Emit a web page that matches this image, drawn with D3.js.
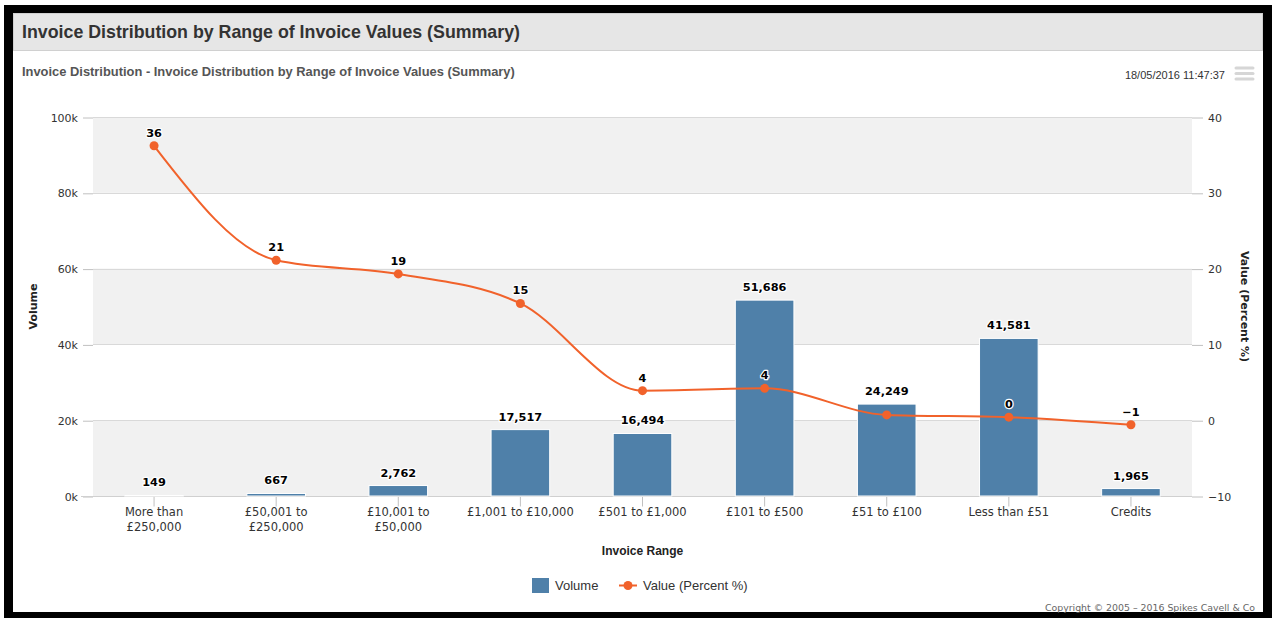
<!DOCTYPE html>
<html>
<head>
<meta charset="utf-8">
<script src="https://cdn.jsdelivr.net/npm/d3@7"></script>
<style>
  html, body { margin: 0; padding: 0; background: #fff; }
  svg { display: block; }
</style>
</head>
<body>
<svg id="chart" width="1272" height="618"></svg>
<script>
// Invoice ranges (x categories)
const categories = [
  "More than £250,000", "£50,001 to £250,000", "£10,001 to £50,000",
  "£1,001 to £10,000", "£501 to £1,000", "£101 to £500",
  "£51 to £100", "Less than £51", "Credits"
];
// Number of invoices per range (left axis, bars)
const volume = [149, 667, 2762, 17517, 16494, 51686, 24249, 41581, 1965];
// Share of total invoice value, percent (right axis, line)
const valuePct = [36.2, 21.1, 19.3, 15.4, 3.9, 4.2, 0.7, 0.4, -0.6];
// Axis tick values
const volumeTicks = [0, 20000, 40000, 60000, 80000, 100000];
const pctTicks = [-10, 0, 10, 20, 30, 40];

const W = 1272, H = 618;
const plot = { left: 93, right: 1192, top: 117, bottom: 496 };
const barColor = "#4f80a9";
const lineColor = "#f1622b";
const sans = "'DejaVu Sans', Verdana, sans-serif";
const arial = "'Liberation Sans', Arial, sans-serif";

const svg = d3.select("#chart");

// Frame
svg.append("rect").attr("x", 0).attr("y", 0).attr("width", W).attr("height", H).attr("fill", "#fff");
svg.append("rect").attr("x", 4).attr("y", 5).attr("width", W - 4).attr("height", H - 5).attr("fill", "#000");
svg.append("rect").attr("x", 13).attr("y", 13).attr("width", 1250).attr("height", 599).attr("fill", "#fff");

// Header bar
svg.append("rect").attr("x", 13.5).attr("y", 13.5).attr("width", 1249).attr("height", 37)
  .attr("fill", "#e6e6e6").attr("stroke", "#d0d0d0");
svg.append("text").attr("x", 22).attr("y", 38)
  .attr("font-family", arial).attr("font-size", 17.8).attr("font-weight", "bold").attr("fill", "#333")
  .text("Invoice Distribution by Range of Invoice Values (Summary)");

// Chart subtitle and timestamp
svg.append("text").attr("x", 22).attr("y", 76)
  .attr("font-family", arial).attr("font-size", 12.9).attr("font-weight", "bold").attr("fill", "#555")
  .text("Invoice Distribution - Invoice Distribution by Range of Invoice Values (Summary)");
svg.append("text").attr("x", 1225).attr("y", 79).attr("text-anchor", "end")
  .attr("font-family", arial).attr("font-size", 11).attr("fill", "#333")
  .text("18/05/2016 11:47:37");

// Context menu icon
svg.append("g").selectAll("line").data([68, 73.5, 79]).join("line")
  .attr("x1", 1236).attr("x2", 1253).attr("y1", d => d).attr("y2", d => d)
  .attr("stroke", "#d6d6d6").attr("stroke-width", 3).attr("stroke-linecap", "round");

// Scales
const x = d3.scaleBand().domain(categories).range([plot.left, plot.right]);
const yL = d3.scaleLinear().domain([0, 100000]).range([plot.bottom, plot.top]);
const yR = d3.scaleLinear().domain([-10, 40]).range([plot.bottom, plot.top]);

// Alternating plot bands
const bands = d3.range(0, volumeTicks.length - 1, 2).map(i => [volumeTicks[i], volumeTicks[i + 1]]);
svg.append("g").selectAll("rect").data(bands).join("rect")
  .attr("x", plot.left).attr("width", plot.right - plot.left)
  .attr("y", d => yL(d[1])).attr("height", d => yL(d[0]) - yL(d[1]))
  .attr("fill", "#f1f1f1");

// Grid lines
svg.append("g").selectAll("line").data(volumeTicks).join("line")
  .attr("x1", plot.left).attr("x2", plot.right)
  .attr("y1", d => Math.round(yL(d)) + 0.5).attr("y2", d => Math.round(yL(d)) + 0.5)
  .attr("stroke", "#d9d9d9");

// Left axis
const gL = svg.append("g").attr("transform", `translate(${plot.left},0.5)`)
  .call(d3.axisLeft(yL).tickValues(volumeTicks).tickFormat(d => d / 1000 + "k").tickSize(10).tickPadding(5));
gL.select(".domain").remove();
gL.selectAll(".tick line").attr("stroke", "#c0c0c0");
gL.selectAll(".tick text").attr("font-family", sans).attr("font-size", 11).attr("fill", "#333");

// Right axis
const gR = svg.append("g").attr("transform", `translate(${plot.right},0.5)`)
  .call(d3.axisRight(yR).tickValues(pctTicks).tickFormat(d3.format("d")).tickSize(11).tickPadding(5));
gR.select(".domain").remove();
gR.selectAll(".tick line").attr("stroke", "#c0c0c0");
gR.selectAll(".tick text").attr("font-family", sans).attr("font-size", 11).attr("fill", "#333");

// Bottom axis
const gB = svg.append("g").attr("transform", `translate(0,${plot.bottom + 0.5})`)
  .call(d3.axisBottom(x).tickSize(10).tickPadding(4).tickFormat(""));
gB.select(".domain").attr("stroke", "#d0d0d0").attr("d", `M${plot.left - 12},0H${plot.right}`);
gB.selectAll(".tick line").attr("stroke", "#c0c0c0");
gB.selectAll(".tick text").remove();

// Category labels, wrapped to fit the band
const labelG = svg.append("g").attr("font-family", sans).attr("font-size", 11.5).attr("fill", "#333")
  .attr("text-anchor", "middle");
const maxLabelW = x.bandwidth() * 0.92;
categories.forEach(cat => {
  const cx = x(cat) + x.bandwidth() / 2;
  const t = labelG.append("text").attr("x", cx).attr("y", 516);
  const words = cat.split(" ");
  let line = [];
  let tspan = t.append("tspan").attr("x", cx).attr("dy", 0);
  words.forEach(w => {
    line.push(w);
    tspan.text(line.join(" "));
    if (tspan.node().getComputedTextLength() > maxLabelW && line.length > 1) {
      line.pop();
      tspan.text(line.join(" "));
      line = [w];
      tspan = t.append("tspan").attr("x", cx).attr("dy", 15).text(w);
    }
  });
});

// Axis titles
svg.append("text").attr("transform", `translate(37,${(plot.top + plot.bottom) / 2}) rotate(-90)`)
  .attr("text-anchor", "middle").attr("font-family", sans).attr("font-size", 11).attr("font-weight", "bold")
  .attr("fill", "#222").text("Volume");
svg.append("text").attr("transform", `translate(1241,${(plot.top + plot.bottom) / 2}) rotate(90)`)
  .attr("text-anchor", "middle").attr("font-family", sans).attr("font-size", 11).attr("font-weight", "bold")
  .attr("fill", "#222").text("Value (Percent %)");
svg.append("text").attr("x", (plot.left + plot.right) / 2).attr("y", 555)
  .attr("text-anchor", "middle").attr("font-family", arial).attr("font-size", 12).attr("font-weight", "bold")
  .attr("fill", "#222").text("Invoice Range");

// Bars
const barW = x.bandwidth() * 0.48;
const rows = categories.map((c, i) => ({ cat: c, vol: volume[i], pct: valuePct[i] }));
svg.append("g").selectAll("rect").data(rows).join("rect")
  .attr("x", d => x(d.cat) + (x.bandwidth() - barW) / 2)
  .attr("width", barW)
  .attr("y", d => yL(d.vol))
  .attr("height", d => plot.bottom - yL(d.vol))
  .attr("fill", barColor).attr("stroke", "#fff").attr("stroke-width", 1);

// Value line
const cxOf = d => x(d.cat) + x.bandwidth() / 2;
svg.append("path").datum(rows)
  .attr("d", d3.line().x(cxOf).y(d => yR(d.pct)).curve(d3.curveMonotoneX))
  .attr("fill", "none").attr("stroke", lineColor).attr("stroke-width", 2);
svg.append("g").selectAll("circle").data(rows).join("circle")
  .attr("cx", cxOf).attr("cy", d => yR(d.pct)).attr("r", 4.5).attr("fill", lineColor);

// Data labels
const fmtVol = d3.format(",");
const fmtPct = d3.format(".0f");
const labelStyle = sel => sel.attr("text-anchor", "middle").attr("font-family", sans)
  .attr("font-size", 11.3).attr("font-weight", "bold").attr("fill", "#000")
  .attr("stroke", "#fff").attr("stroke-width", 2.5).attr("paint-order", "stroke").attr("stroke-linejoin", "round");

const barLabels = svg.append("g").selectAll("text").data(rows).join("text")
  .attr("x", cxOf).attr("y", d => yL(d.vol) - 9).text(d => fmtVol(d.vol)).call(labelStyle);
const lineLabels = svg.append("g").selectAll("text").data(rows).join("text")
  .attr("x", cxOf).attr("y", d => yR(d.pct) - 9).text(d => fmtPct(d.pct)).call(labelStyle);

// Hide line labels that collide with a bar label
const barBoxes = barLabels.nodes().map(n => n.getBBox());
lineLabels.each(function () {
  const b = this.getBBox();
  const hit = barBoxes.some(o => b.x < o.x + o.width && o.x < b.x + b.width && b.y < o.y + o.height && o.y < b.y + b.height);
  if (hit) d3.select(this).remove();
});

// Legend
const leg = svg.append("g").attr("font-family", arial).attr("font-size", 13).attr("fill", "#333");
leg.append("rect").attr("x", 532).attr("y", 578).attr("width", 17).attr("height", 15).attr("fill", barColor);
leg.append("text").attr("x", 555).attr("y", 590).text("Volume");
leg.append("line").attr("x1", 619).attr("x2", 637).attr("y1", 585.5).attr("y2", 585.5)
  .attr("stroke", lineColor).attr("stroke-width", 2);
leg.append("circle").attr("cx", 628).attr("cy", 585.5).attr("r", 4.5).attr("fill", lineColor);
leg.append("text").attr("x", 643).attr("y", 590).text("Value (Percent %)");

// Footer credit
svg.append("text").attr("x", 1255).attr("y", 611).attr("text-anchor", "end")
  .attr("font-family", sans).attr("font-size", 9.4).attr("fill", "#666")
  .text("Copyright © 2005 – 2016 Spikes Cavell & Co");
</script>
</body>
</html>
